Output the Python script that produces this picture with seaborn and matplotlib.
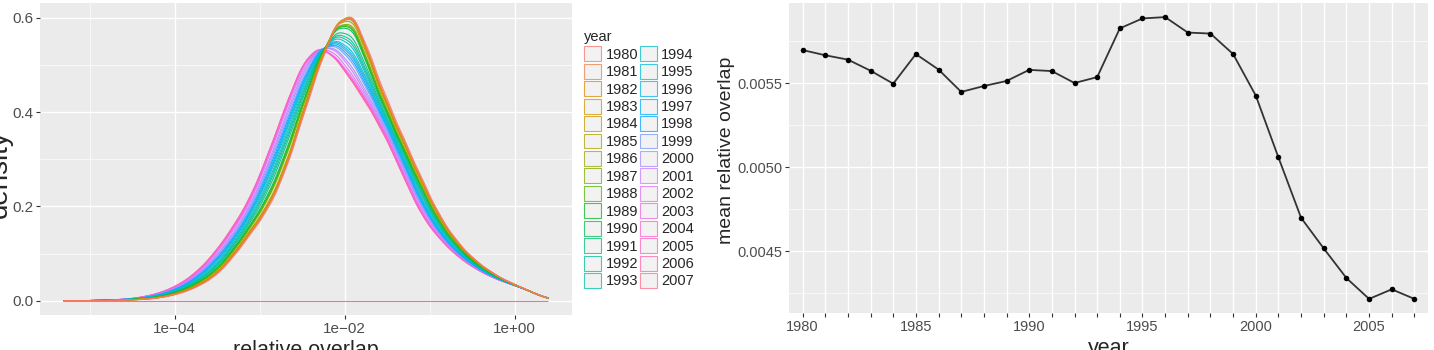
import numpy as np
import pandas as pd
import matplotlib
matplotlib.use("Agg")
import matplotlib.pyplot as plt
from matplotlib.patches import Patch
from matplotlib.ticker import FixedLocator, MultipleLocator, FuncFormatter
import seaborn as sns

# ---------------- data ----------------
years = list(range(1980, 2008))

# right panel: mean relative overlap per year
mean_overlap = [0.005696, 0.005665, 0.005639, 0.005573, 0.005496, 0.005672, 0.005580,
                0.005447, 0.005482, 0.005512, 0.005578, 0.005571, 0.005500, 0.005535,
                0.005825, 0.005884, 0.005892, 0.005800, 0.005794, 0.005672, 0.005425,
                0.005057, 0.004698, 0.004516, 0.004340, 0.004216, 0.004273, 0.004216]

# left panel: density (per log10 unit) read at log10(relative overlap) grid points
grid_log10 = [-5.3, -5.1, -4.9, -4.7, -4.5, -4.3, -4.1, -3.9, -3.7, -3.5, -3.3, -3.1,
              -2.9, -2.7, -2.5, -2.3, -2.1, -1.9, -1.7, -1.5, -1.3, -1.1, -0.9, -0.7,
              -0.5, -0.3, -0.1, 0.1, 0.3, 0.39]

dens_1980 = [0, 0, 0, 0.0008, 0.0018, 0.0035, 0.008, 0.017, 0.032, 0.054, 0.094, 0.143, 0.192, 0.270, 0.383, 0.495, 0.588, 0.616, 0.520, 0.425, 0.342, 0.262, 0.185, 0.130, 0.091, 0.063, 0.042, 0.027, 0.010, 0]
dens_1981 = [0, 0, 0, 0.0009, 0.0019, 0.0038, 0.0085, 0.018, 0.033, 0.056, 0.097, 0.146, 0.196, 0.275, 0.389, 0.500, 0.591, 0.615, 0.515, 0.420, 0.339, 0.259, 0.183, 0.129, 0.090, 0.063, 0.042, 0.027, 0.010, 0]
dens_1982 = [0, 0, 0, 0.001, 0.002, 0.004, 0.009, 0.019, 0.035, 0.058, 0.100, 0.150, 0.200, 0.280, 0.395, 0.505, 0.594, 0.616, 0.512, 0.416, 0.335, 0.255, 0.180, 0.128, 0.090, 0.063, 0.042, 0.027, 0.010, 0]
dens_1983 = [0, 0, 0, 0.001, 0.002, 0.004, 0.009, 0.019, 0.035, 0.058, 0.100, 0.150, 0.200, 0.280, 0.395, 0.505, 0.593, 0.613, 0.510, 0.415, 0.335, 0.255, 0.180, 0.128, 0.090, 0.063, 0.042, 0.027, 0.010, 0]
dens_1984 = [0, 0, 0, 0.001, 0.002, 0.004, 0.009, 0.018, 0.034, 0.057, 0.098, 0.148, 0.198, 0.278, 0.393, 0.505, 0.596, 0.620, 0.515, 0.418, 0.337, 0.256, 0.180, 0.128, 0.090, 0.063, 0.042, 0.027, 0.010, 0]
dens_1985 = [0, 0, 0, 0.001, 0.002, 0.004, 0.009, 0.019, 0.035, 0.058, 0.100, 0.150, 0.201, 0.281, 0.396, 0.506, 0.594, 0.615, 0.511, 0.415, 0.335, 0.255, 0.180, 0.128, 0.090, 0.063, 0.042, 0.027, 0.010, 0]
dens_1986 = [0, 0, 0, 0.001, 0.002, 0.0045, 0.0095, 0.020, 0.036, 0.060, 0.102, 0.153, 0.205, 0.286, 0.401, 0.510, 0.595, 0.608, 0.505, 0.412, 0.333, 0.253, 0.178, 0.127, 0.089, 0.062, 0.042, 0.027, 0.010, 0]
dens_1987 = [0, 0, 0.0003, 0.0012, 0.0025, 0.005, 0.010, 0.021, 0.038, 0.063, 0.106, 0.157, 0.213, 0.298, 0.409, 0.513, 0.589, 0.599, 0.495, 0.405, 0.326, 0.246, 0.173, 0.123, 0.087, 0.061, 0.042, 0.027, 0.010, 0]
dens_1988 = [0, 0, 0.0003, 0.0012, 0.0025, 0.005, 0.0105, 0.021, 0.039, 0.064, 0.108, 0.160, 0.216, 0.302, 0.414, 0.516, 0.590, 0.596, 0.492, 0.403, 0.324, 0.245, 0.172, 0.122, 0.087, 0.061, 0.042, 0.027, 0.010, 0]
dens_1989 = [0, 0, 0.0003, 0.0012, 0.0026, 0.0052, 0.011, 0.022, 0.040, 0.066, 0.110, 0.162, 0.219, 0.306, 0.417, 0.518, 0.590, 0.594, 0.490, 0.401, 0.322, 0.243, 0.171, 0.122, 0.086, 0.061, 0.042, 0.027, 0.010, 0]
dens_1990 = [0, 0, 0.0004, 0.0013, 0.0027, 0.0055, 0.0112, 0.0225, 0.041, 0.068, 0.112, 0.164, 0.224, 0.312, 0.422, 0.520, 0.588, 0.589, 0.486, 0.399, 0.320, 0.241, 0.169, 0.121, 0.085, 0.060, 0.041, 0.027, 0.010, 0]
dens_1991 = [0, 0, 0.0005, 0.0015, 0.003, 0.006, 0.012, 0.024, 0.043, 0.071, 0.115, 0.168, 0.232, 0.322, 0.429, 0.522, 0.578, 0.571, 0.476, 0.395, 0.315, 0.235, 0.165, 0.118, 0.083, 0.059, 0.041, 0.027, 0.010, 0]
dens_1992 = [0, 0, 0.0005, 0.0015, 0.003, 0.0062, 0.0125, 0.025, 0.045, 0.074, 0.119, 0.173, 0.240, 0.332, 0.437, 0.527, 0.576, 0.564, 0.471, 0.391, 0.312, 0.232, 0.163, 0.117, 0.083, 0.059, 0.041, 0.027, 0.010, 0]
dens_1993 = [0, 0, 0.0006, 0.0016, 0.0031, 0.0065, 0.013, 0.026, 0.046, 0.076, 0.122, 0.177, 0.246, 0.340, 0.444, 0.531, 0.574, 0.558, 0.467, 0.388, 0.309, 0.229, 0.161, 0.116, 0.082, 0.058, 0.041, 0.027, 0.010, 0]
dens_1994 = [0, 0, 0.0007, 0.0017, 0.0032, 0.0068, 0.0138, 0.027, 0.048, 0.079, 0.125, 0.181, 0.252, 0.347, 0.450, 0.534, 0.570, 0.551, 0.463, 0.385, 0.305, 0.225, 0.158, 0.114, 0.081, 0.058, 0.040, 0.027, 0.010, 0]
dens_1995 = [0, 0, 0.0008, 0.0018, 0.0033, 0.0072, 0.0145, 0.028, 0.050, 0.082, 0.128, 0.185, 0.258, 0.354, 0.455, 0.535, 0.563, 0.538, 0.457, 0.381, 0.301, 0.219, 0.155, 0.111, 0.080, 0.057, 0.040, 0.027, 0.010, 0]
dens_1996 = [0, 0, 0.0009, 0.0019, 0.0034, 0.0075, 0.015, 0.029, 0.052, 0.085, 0.131, 0.188, 0.263, 0.360, 0.460, 0.538, 0.561, 0.531, 0.453, 0.378, 0.298, 0.215, 0.152, 0.109, 0.079, 0.056, 0.040, 0.027, 0.010, 0]
dens_1997 = [0, 0, 0.001, 0.002, 0.0035, 0.008, 0.016, 0.030, 0.053, 0.087, 0.133, 0.190, 0.268, 0.365, 0.465, 0.540, 0.558, 0.525, 0.449, 0.375, 0.295, 0.212, 0.150, 0.108, 0.078, 0.056, 0.040, 0.027, 0.010, 0]
dens_1998 = [0, 0, 0.001, 0.002, 0.0036, 0.0082, 0.0165, 0.031, 0.055, 0.090, 0.136, 0.194, 0.274, 0.372, 0.470, 0.541, 0.554, 0.518, 0.444, 0.371, 0.291, 0.208, 0.148, 0.107, 0.077, 0.055, 0.039, 0.027, 0.010, 0]
dens_1999 = [0, 0, 0.001, 0.002, 0.0037, 0.0085, 0.017, 0.032, 0.056, 0.092, 0.139, 0.198, 0.280, 0.378, 0.475, 0.542, 0.549, 0.510, 0.438, 0.366, 0.286, 0.204, 0.146, 0.105, 0.076, 0.054, 0.039, 0.027, 0.010, 0]
dens_2000 = [0, 0, 0.001, 0.002, 0.0038, 0.0088, 0.0175, 0.033, 0.058, 0.095, 0.142, 0.202, 0.285, 0.384, 0.481, 0.542, 0.540, 0.496, 0.429, 0.360, 0.280, 0.199, 0.143, 0.103, 0.075, 0.054, 0.039, 0.027, 0.010, 0]
dens_2001 = [0, 0, 0.001, 0.002, 0.004, 0.009, 0.018, 0.034, 0.059, 0.097, 0.145, 0.205, 0.290, 0.390, 0.486, 0.542, 0.535, 0.486, 0.422, 0.355, 0.275, 0.195, 0.140, 0.102, 0.074, 0.053, 0.039, 0.027, 0.010, 0]
dens_2002 = [0, 0, 0.001, 0.002, 0.004, 0.0095, 0.019, 0.0355, 0.061, 0.101, 0.150, 0.210, 0.298, 0.398, 0.492, 0.541, 0.525, 0.476, 0.417, 0.350, 0.268, 0.189, 0.137, 0.100, 0.073, 0.053, 0.038, 0.027, 0.010, 0]
dens_2003 = [0, 0, 0.001, 0.002, 0.004, 0.0098, 0.0195, 0.036, 0.063, 0.104, 0.153, 0.213, 0.302, 0.402, 0.498, 0.540, 0.516, 0.469, 0.412, 0.347, 0.265, 0.185, 0.136, 0.099, 0.072, 0.052, 0.038, 0.027, 0.010, 0]
dens_2004 = [0, 0, 0.001, 0.002, 0.004, 0.010, 0.020, 0.037, 0.064, 0.105, 0.155, 0.215, 0.305, 0.405, 0.501, 0.540, 0.513, 0.464, 0.410, 0.345, 0.262, 0.182, 0.135, 0.098, 0.072, 0.052, 0.038, 0.027, 0.010, 0]
dens_2005 = [0, 0, 0.001, 0.002, 0.0042, 0.0102, 0.0205, 0.038, 0.065, 0.106, 0.157, 0.217, 0.307, 0.406, 0.502, 0.542, 0.514, 0.463, 0.408, 0.343, 0.260, 0.181, 0.134, 0.098, 0.072, 0.052, 0.038, 0.027, 0.010, 0]
dens_2006 = [0, 0, 0.001, 0.002, 0.0042, 0.0103, 0.0207, 0.0385, 0.066, 0.107, 0.158, 0.218, 0.308, 0.408, 0.503, 0.543, 0.514, 0.462, 0.407, 0.342, 0.259, 0.180, 0.134, 0.098, 0.072, 0.052, 0.038, 0.027, 0.010, 0]
dens_2007 = [0, 0, 0.001, 0.0021, 0.0043, 0.0105, 0.021, 0.039, 0.067, 0.108, 0.160, 0.220, 0.310, 0.410, 0.504, 0.543, 0.513, 0.460, 0.405, 0.340, 0.258, 0.180, 0.133, 0.097, 0.071, 0.052, 0.038, 0.027, 0.010, 0]

dens_by_year = {y: globals()[f"dens_{y}"] for y in years}

# ---------------- palette (ggplot2 hue palette) ----------------
def hcl_hex(h, c=100.0, l=65.0):
    Xn, Yn, Zn = 95.047, 100.0, 108.883
    hr = np.deg2rad(h)
    U, V = c * np.cos(hr), c * np.sin(hr)
    Y = Yn * ((l + 16) / 116) ** 3 if l > 8 else Yn * l / 903.3
    den = Xn + 15 * Yn + 3 * Zn
    un, vn = 4 * Xn / den, 9 * Yn / den
    u = U / (13 * l) + un
    v = V / (13 * l) + vn
    X = Y * 9 * u / (4 * v)
    Z = Y * (12 - 3 * u - 20 * v) / (4 * v)
    X, Y, Z = X / 100, Y / 100, Z / 100
    r = 3.240479 * X - 1.537150 * Y - 0.498535 * Z
    g = -0.969256 * X + 1.875992 * Y + 0.041556 * Z
    b = 0.055648 * X - 0.204043 * Y + 1.057311 * Z
    def gam(t):
        t = 12.92 * t if t <= 0.0031308 else 1.055 * t ** (1 / 2.4) - 0.055
        return min(max(t, 0.0), 1.0)
    return matplotlib.colors.to_hex((gam(r), gam(g), gam(b)))

n = len(years)
hues = np.linspace(15, 375, n + 1)[:n]
palette = {y: hcl_hex(h) for y, h in zip(years, hues)}

# ---------------- style ----------------
sns.set_theme(style="darkgrid")
plt.rcParams["font.family"] = ["Liberation Sans", "DejaVu Sans"]
plt.rcParams["axes.unicode_minus"] = True

BG = "#EBEBEB"
TICK_C = "#4D4D4D"

fig = plt.figure(figsize=(14.34, 3.5), dpi=100)
W, H = 1434, 350
axL = fig.add_axes([40 / W, 1 - 315 / H, 532 / W, 312 / H])
axR = fig.add_axes([789 / W, 1 - 313 / H, 639 / W, 310 / H])

def style_axes(ax):
    ax.set_facecolor(BG)
    for s in ax.spines.values():
        s.set_visible(False)
    ax.grid(which="major", color="white", linewidth=1.0)
    ax.grid(which="minor", color="white", linewidth=0.45)
    ax.set_axisbelow(True)
    ax.tick_params(which="major", length=3, width=0.8, color="#333333",
                   labelcolor=TICK_C, pad=2, bottom=True, left=True)
    ax.tick_params(which="minor", length=0)

# ---------------- left panel: densities ----------------
rows = []
for y in years:
    for g, d in zip(grid_log10, dens_by_year[y]):
        rows.append({"overlap": 10 ** g, "w": d, "year": y})
df = pd.DataFrame(rows)

sns.kdeplot(data=df, x="overlap", weights="w", hue="year", hue_order=years,
            palette=palette, log_scale=True, bw_method=0.15, cut=0,
            common_norm=False, fill=False, linewidth=0.8, alpha=0.9,
            legend=False, ax=axL)
axL.hlines(0, 10 ** grid_log10[0], 10 ** grid_log10[-1], color=palette[years[-1]],
           linewidth=0.8)

style_axes(axL)
axL.set_xscale("log")
ymax = max(np.max(l.get_ydata()) for l in axL.lines)
axL.set_ylim(-0.05 * ymax, 1.05 * ymax)
axL.xaxis.set_major_locator(FixedLocator([1e-4, 1e-2, 1e0]))
axL.xaxis.set_minor_locator(FixedLocator([1e-5, 1e-3, 1e-1]))
axL.xaxis.set_major_formatter(FuncFormatter(
    lambda v, p: {1e-4: "1e\u221204", 1e-2: "1e\u221202", 1e0: "1e+00"}.get(v, "")))
axL.xaxis.set_minor_formatter(FuncFormatter(lambda v, p: ""))
axL.yaxis.set_major_locator(MultipleLocator(0.2))
axL.yaxis.set_minor_locator(MultipleLocator(0.1))
axL.yaxis.set_major_formatter(FuncFormatter(lambda v, p: f"{v:.1f}"))
axL.tick_params(axis="both", which="major", labelsize=11)
axL.set_xlabel("relative overlap", fontsize=15.5, labelpad=3)
axL.set_ylabel("density", fontsize=20)
axL.yaxis.set_label_coords(-0.051, 0.45)

# legend
handles = [Patch(facecolor="#F2F2F2",
                 edgecolor=matplotlib.colors.to_rgba(palette[y], 0.75),
                 linewidth=0.8, label=str(y))
           for y in years]
leg = fig.legend(handles=handles, title="year", ncol=2, loc="upper left",
                 bbox_to_anchor=(577 / W, 1 - 23 / H), frameon=False,
                 fontsize=10.5, title_fontsize=10.5, handlelength=1.15,
                 handleheight=1.2, handletextpad=0.3, labelspacing=0.14,
                 columnspacing=0.12, borderpad=0, alignment="left")

# ---------------- right panel: mean relative overlap ----------------
dfr = pd.DataFrame({"year": years, "mean": mean_overlap})
sns.lineplot(data=dfr, x="year", y="mean", color="#333333", linewidth=1.3, ax=axR)
sns.scatterplot(data=dfr, x="year", y="mean", color="black", s=16, edgecolor="black",
                linewidth=0, zorder=3, ax=axR)
style_axes(axR)
axR.set_xlim(years[0] - 0.6, years[-1] + 0.6)
axR.xaxis.set_major_locator(FixedLocator(years))
axR.set_xticklabels([str(y) if y % 5 == 0 else "" for y in years])
axR.yaxis.set_major_locator(FixedLocator([0.0045, 0.0050, 0.0055]))
axR.yaxis.set_minor_locator(FixedLocator([0.00425, 0.00475, 0.00525, 0.00575]))
axR.yaxis.set_major_formatter(FuncFormatter(lambda v, p: f"{v:.4f}"))
axR.tick_params(axis="both", which="major", labelsize=10.5)
axR.set_xlabel("year", fontsize=15.5, labelpad=3)
axR.set_ylabel("mean relative overlap", fontsize=14)
axR.yaxis.set_label_coords(-0.0845, 0.526)

fig.savefig("out.png", dpi=100, facecolor="white")
